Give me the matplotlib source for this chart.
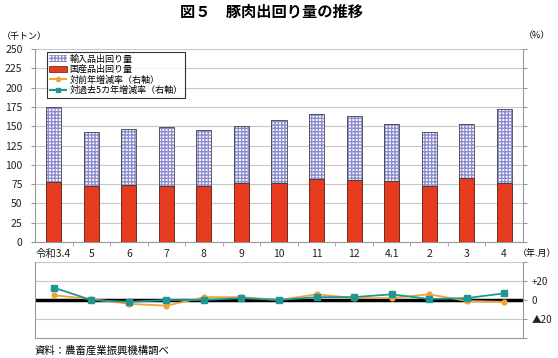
import matplotlib
matplotlib.use("Agg")
import matplotlib.pyplot as plt
import numpy as np
from matplotlib.lines import Line2D
from matplotlib.patches import Patch

plt.rcParams["font.family"] = ["Noto Sans CJK JP", "DejaVu Sans"]

# data (thousand tonnes / %)
months = ["令和3.4", "5", "6", "7", "8", "9", "10", "11", "12", "4.1", "2", "3", "4"]
total = [175, 143, 146, 149, 145, 150, 158, 166, 163, 153, 143, 153, 172]
domestic = [78, 72, 74, 73, 72, 76, 77, 81, 80, 79, 73, 83, 77]
yoy = [5, 1, -4, -6, 3, 3, 0, 6, 2, 2, 6, -1, -2]
vs5yr = [13, 0, -2, 0, 0, 2, 0, 3, 3, 6, 1, 2, 7]

imported = [t - d for t, d in zip(total, domestic)]

RED = "#E63B1F"
ORANGE = "#F2A33A"
TEAL = "#1E9693"
GRID = "#C8C8C8"
HATCH = "#8C8CD0"

W, H = 558, 358
fig = plt.figure(figsize=(W / 100, H / 100), dpi=100)
fig.patch.set_facecolor("white")


def box(l, t, r, b):
    return [l / W, 1 - b / H, (r - l) / W, (b - t) / H]


ax = fig.add_axes(box(35, 49, 523, 242))
ax2 = fig.add_axes(box(35, 262, 523, 338))

x = np.arange(len(months))
bw = 0.4

# bars
ax.bar(x, domestic, bw, color=RED, edgecolor="#5a1a10", linewidth=0.6, zorder=3)
ax.bar(x, imported, bw, bottom=domestic, color="white", edgecolor=HATCH,
       hatch="+++++", linewidth=0, zorder=3)
ax.bar(x, imported, bw, bottom=domestic, fill=False, edgecolor="#444444",
       linewidth=0.6, zorder=4)

ax.set_xlim(-0.5, len(months) - 0.5)
ax.set_ylim(0, 250)
ax.set_yticks(range(0, 251, 25))
ax.yaxis.grid(True, color=GRID, lw=0.8)
ax.set_axisbelow(True)
ax.tick_params(axis="y", labelsize=7.5, length=0, pad=6, colors="#222222")
ax.spines["top"].set_visible(False)
for s in ["left", "right", "bottom"]:
    ax.spines[s].set_color("#999999")
    ax.spines[s].set_linewidth(0.8)
ax.set_xticks(x)
ax.set_xticklabels(months, fontsize=7.5, color="#222222")
ax.tick_params(axis="x", which="major", length=0, pad=5)
ax.set_xticks(x[:-1] + 0.5, minor=True)
ax.tick_params(axis="x", which="minor", length=3, color="#999999")
ax.tick_params(axis="y", which="both", right=True, direction="out")
ax.yaxis.set_tick_params(length=3, color="#999999")

# legend
handles = [
    Patch(facecolor="white", edgecolor=HATCH, hatch="+++++", lw=0),
    Patch(facecolor=RED, edgecolor="#5a1a10", lw=0.5),
    Line2D([0], [0], color=ORANGE, lw=1.5, ls="--", marker="o", ms=3),
    Line2D([0], [0], color=TEAL, lw=1.5, ls="--", marker="s", ms=3),
]
labels = ["輸入品出回り量", "国産品出回り量", "対前年増減率（右軸）", "対過去5カ年増減率（右軸）"]
leg = ax.legend(handles, labels, loc="upper left", bbox_to_anchor=(0.022, 0.99),
                fontsize=6.5, frameon=True, fancybox=False, borderpad=0.3,
                labelspacing=0.15, handlelength=2.0, handletextpad=0.2,
                borderaxespad=0.1)
leg.get_frame().set_edgecolor("black")
leg.get_frame().set_linewidth(0.8)

# lower panel: growth rates
ax2.set_xlim(-0.5, len(months) - 0.5)
ax2.set_ylim(-40, 40)
ax2.set_yticks([-40, -20, 0, 20, 40])
ax2.yaxis.grid(True, color=GRID, lw=0.8)
ax2.set_axisbelow(True)
ax2.axhline(0, color="black", lw=2.5, zorder=2)
ax2.plot(x, yoy, color=ORANGE, lw=1.3, marker="o", ms=3.5, zorder=3)
ax2.plot(x, vs5yr, color=TEAL, lw=1.3, marker="s", ms=4, zorder=4)
ax2.set_xticks([])
ax2.yaxis.tick_right()
ax2.set_yticklabels(["", "▲20", "0", "+20", ""], fontsize=7, color="#222222")
ax2.tick_params(axis="y", length=3, color="#999999", pad=3)
ax2.spines["top"].set_visible(False)
for s in ["left", "right", "bottom"]:
    ax2.spines[s].set_color("#999999")
    ax2.spines[s].set_linewidth(0.8)

# texts
fig.text(272 / W, 1 - 12 / H, "図５　豚肉出回り量の推移", ha="center", va="center",
         fontsize=11, fontweight="bold")
fig.text(2 / W, 1 - 36 / H, "（千トン）", ha="left", va="center", fontsize=6.5)
fig.text(550 / W, 1 - 36 / H, "（%）", ha="right", va="center", fontsize=6.5)
fig.text(556 / W, 1 - 253 / H, "（年.月）", ha="right", va="center", fontsize=6.5)
fig.text(35 / W, 1 - 351 / H, "資料：農畜産業振興機構調べ", ha="left", va="center",
         fontsize=7.5)

fig.savefig("out.png", dpi=100, facecolor="white")
